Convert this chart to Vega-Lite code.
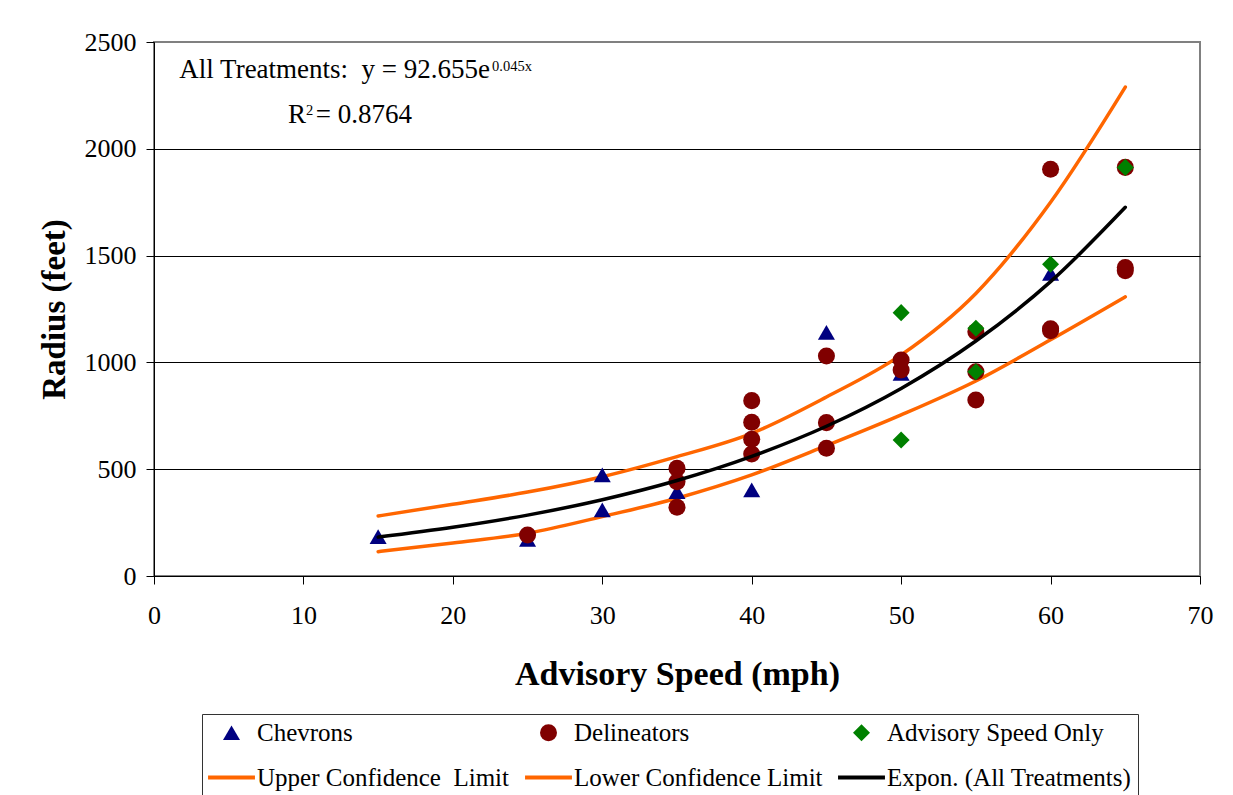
{
  "$schema": "https://vega.github.io/schema/vega-lite/v6.json",
  "width": 1046,
  "height": 534,
  "autosize": {"type": "none"},
  "padding": {"left": 154, "top": 42, "right": 33, "bottom": 219},
  "background": "white",
  "config": {
    "font": "Liberation Serif",
    "view": {"stroke": "#808080", "strokeWidth": 2},
    "axis": {
      "domainColor": "#000",
      "tickColor": "#000",
      "labelColor": "#000",
      "titleColor": "#000",
      "labelFont": "Liberation Serif",
      "titleFont": "Liberation Serif"
    }
  },
  "datasets": {
    "points": [
      {"series": "Chevrons", "speed": 15, "radius": 184},
      {"series": "Chevrons", "speed": 25, "radius": 172},
      {"series": "Chevrons", "speed": 30, "radius": 473},
      {"series": "Chevrons", "speed": 30, "radius": 309},
      {"series": "Chevrons", "speed": 35, "radius": 395},
      {"series": "Chevrons", "speed": 40, "radius": 403},
      {"series": "Chevrons", "speed": 45, "radius": 1141},
      {"series": "Chevrons", "speed": 50, "radius": 949},
      {"series": "Chevrons", "speed": 60, "radius": 1417},
      {"series": "Delineators", "speed": 25, "radius": 192},
      {"series": "Delineators", "speed": 35, "radius": 504},
      {"series": "Delineators", "speed": 35, "radius": 441},
      {"series": "Delineators", "speed": 35, "radius": 322},
      {"series": "Delineators", "speed": 40, "radius": 821},
      {"series": "Delineators", "speed": 40, "radius": 720},
      {"series": "Delineators", "speed": 40, "radius": 640},
      {"series": "Delineators", "speed": 40, "radius": 571},
      {"series": "Delineators", "speed": 45, "radius": 1030},
      {"series": "Delineators", "speed": 45, "radius": 718},
      {"series": "Delineators", "speed": 45, "radius": 598},
      {"series": "Delineators", "speed": 50, "radius": 1011},
      {"series": "Delineators", "speed": 50, "radius": 964},
      {"series": "Delineators", "speed": 55, "radius": 1144},
      {"series": "Delineators", "speed": 55, "radius": 956},
      {"series": "Delineators", "speed": 55, "radius": 824},
      {"series": "Delineators", "speed": 60, "radius": 1904},
      {"series": "Delineators", "speed": 60, "radius": 1158},
      {"series": "Delineators", "speed": 60, "radius": 1148},
      {"series": "Delineators", "speed": 65, "radius": 1913},
      {"series": "Delineators", "speed": 65, "radius": 1444},
      {"series": "Delineators", "speed": 65, "radius": 1429},
      {"series": "Advisory Speed Only", "speed": 50, "radius": 1233},
      {"series": "Advisory Speed Only", "speed": 50, "radius": 637},
      {"series": "Advisory Speed Only", "speed": 55, "radius": 1160},
      {"series": "Advisory Speed Only", "speed": 55, "radius": 956},
      {"series": "Advisory Speed Only", "speed": 60, "radius": 1459},
      {"series": "Advisory Speed Only", "speed": 65, "radius": 1913}
    ],
    "limits": [
      {"series": "Upper Confidence \u00a0Limit", "speed": 15, "radius": 281},
      {"series": "Upper Confidence \u00a0Limit", "speed": 20, "radius": 336},
      {"series": "Upper Confidence \u00a0Limit", "speed": 25, "radius": 393},
      {"series": "Upper Confidence \u00a0Limit", "speed": 30, "radius": 465},
      {"series": "Upper Confidence \u00a0Limit", "speed": 35, "radius": 559},
      {"series": "Upper Confidence \u00a0Limit", "speed": 40, "radius": 668},
      {"series": "Upper Confidence \u00a0Limit", "speed": 45, "radius": 838},
      {"series": "Upper Confidence \u00a0Limit", "speed": 50, "radius": 1035},
      {"series": "Upper Confidence \u00a0Limit", "speed": 55, "radius": 1323},
      {"series": "Upper Confidence \u00a0Limit", "speed": 60, "radius": 1750},
      {"series": "Upper Confidence \u00a0Limit", "speed": 65, "radius": 2289},
      {"series": "Lower Confidence Limit", "speed": 15, "radius": 114},
      {"series": "Lower Confidence Limit", "speed": 20, "radius": 155},
      {"series": "Lower Confidence Limit", "speed": 25, "radius": 200},
      {"series": "Lower Confidence Limit", "speed": 30, "radius": 278},
      {"series": "Lower Confidence Limit", "speed": 35, "radius": 364},
      {"series": "Lower Confidence Limit", "speed": 40, "radius": 473},
      {"series": "Lower Confidence Limit", "speed": 45, "radius": 610},
      {"series": "Lower Confidence Limit", "speed": 50, "radius": 754},
      {"series": "Lower Confidence Limit", "speed": 55, "radius": 913},
      {"series": "Lower Confidence Limit", "speed": 60, "radius": 1106},
      {"series": "Lower Confidence Limit", "speed": 65, "radius": 1307}
    ],
    "trend": [
      {"series": "Expon. (All Treatments)", "speed": 15, "radius": 182},
      {"series": "Expon. (All Treatments)", "speed": 20, "radius": 228},
      {"series": "Expon. (All Treatments)", "speed": 25, "radius": 285},
      {"series": "Expon. (All Treatments)", "speed": 30, "radius": 357},
      {"series": "Expon. (All Treatments)", "speed": 35, "radius": 447},
      {"series": "Expon. (All Treatments)", "speed": 40, "radius": 560},
      {"series": "Expon. (All Treatments)", "speed": 45, "radius": 701},
      {"series": "Expon. (All Treatments)", "speed": 50, "radius": 878},
      {"series": "Expon. (All Treatments)", "speed": 55, "radius": 1100},
      {"series": "Expon. (All Treatments)", "speed": 60, "radius": 1378},
      {"series": "Expon. (All Treatments)", "speed": 65, "radius": 1726}
    ]
  },
  "layer": [
    {
      "data": {"name": "limits"},
      "mark": {"type": "line", "interpolate": "monotone", "strokeWidth": 3.5, "strokeCap": "round"},
      "encoding": {
        "x": {
          "field": "speed",
          "type": "quantitative",
          "scale": {"domain": [0, 70], "nice": false, "zero": true},
          "axis": {
            "title": "Advisory Speed (mph)",
            "values": [0, 10, 20, 30, 40, 50, 60, 70],
            "format": "d",
            "grid": false,
            "tickSize": 8,
            "labelPadding": 18,
            "labelFontSize": 26,
            "labelFlush": false,
            "labelOverlap": false,
            "titleFontSize": 34,
            "titleFontWeight": "bold",
            "titlePadding": 29
          }
        },
        "y": {
          "field": "radius",
          "type": "quantitative",
          "scale": {"domain": [0, 2500], "nice": false, "zero": true},
          "axis": {
            "title": "Radius (feet)",
            "values": [0, 500, 1000, 1500, 2000, 2500],
            "format": "d",
            "grid": true,
            "gridColor": {"condition": {"test": "datum.value == 2500", "value": "#808080"}, "value": "#000000"},
            "gridWidth": 1,
            "tickSize": 8,
            "labelPadding": 10,
            "labelFontSize": 26,
            "labelFlush": false,
            "titleFontSize": 33,
            "titleFontWeight": "bold",
            "titlePadding": 13
          }
        },
        "detail": {"field": "series", "type": "nominal"},
        "stroke": {
          "field": "series",
          "type": "nominal",
          "scale": {"domain": ["Upper Confidence \u00a0Limit", "Lower Confidence Limit"], "range": ["#FF6600", "#FF6600"]},
          "legend": null
        }
      }
    },
    {
      "data": {"name": "points"},
      "mark": {"type": "point", "filled": true, "size": 290, "opacity": 1},
      "encoding": {
        "x": {"field": "speed", "type": "quantitative"},
        "y": {"field": "radius", "type": "quantitative"},
        "color": {
          "field": "series",
          "type": "nominal",
          "scale": {
            "domain": ["Chevrons", "Delineators", "Advisory Speed Only", "Upper Confidence \u00a0Limit", "Lower Confidence Limit", "Expon. (All Treatments)"],
            "range": ["#000080", "#800000", "#008000", "#FF6600", "#FF6600", "#000000"]
          },
          "legend": {
            "title": null,
            "orient": "none",
            "direction": "horizontal",
            "legendX": 48,
            "legendY": 672,
            "columns": 3,
            "columnPadding": 15,
            "rowPadding": 19,
            "padding": 6,
            "strokeColor": "#333333",
            "fillColor": "white",
            "labelFont": "Liberation Serif",
            "labelFontSize": 25,
            "labelColor": "#000",
            "labelLimit": 400,
            "symbolSize": 289,
            "symbolOffset": 11,
            "labelOffset": 13,
            "symbolStrokeWidth": 0,
            "symbolOpacity": 1
          }
        },
        "shape": {
          "field": "series",
          "type": "nominal",
          "scale": {
            "domain": ["Chevrons", "Delineators", "Advisory Speed Only", "Upper Confidence \u00a0Limit", "Lower Confidence Limit", "Expon. (All Treatments)"],
            "range": ["triangle-up", "circle", "diamond", "M-2.76,-0.24H2.76V0.24H-2.76Z", "M-2.76,-0.24H2.76V0.24H-2.76Z", "M-2.76,-0.24H2.76V0.24H-2.76Z"]
          },
          "legend": {
            "title": null,
            "orient": "none",
            "direction": "horizontal",
            "legendX": 48,
            "legendY": 672,
            "columns": 3,
            "columnPadding": 15,
            "rowPadding": 19,
            "padding": 6,
            "strokeColor": "#333333",
            "fillColor": "white",
            "labelFont": "Liberation Serif",
            "labelFontSize": 25,
            "labelColor": "#000",
            "labelLimit": 400,
            "symbolSize": 289,
            "symbolOffset": 11,
            "labelOffset": 13,
            "symbolStrokeWidth": 0,
            "symbolOpacity": 1
          }
        }
      }
    },
    {
      "data": {"name": "trend"},
      "mark": {"type": "line", "interpolate": "monotone", "strokeWidth": 3.5, "strokeCap": "round", "stroke": "#000000"},
      "encoding": {
        "x": {"field": "speed", "type": "quantitative"},
        "y": {"field": "radius", "type": "quantitative"}
      }
    },
    {
      "data": {"values": [{"label": "All Treatments:\u00a0 y = 92.655e"}]},
      "mark": {"type": "text", "align": "right", "baseline": "alphabetic", "fontSize": 27, "font": "Liberation Serif", "fill": "#000000"},
      "encoding": {
        "x": {"datum": 22.49, "type": "quantitative"},
        "y": {"datum": 2333, "type": "quantitative"},
        "text": {"field": "label", "type": "nominal"}
      }
    },
    {
      "data": {"values": [{"label": "0.045x"}]},
      "mark": {"type": "text", "align": "left", "baseline": "alphabetic", "fontSize": 14.5, "font": "Liberation Serif", "fill": "#000000"},
      "encoding": {
        "x": {"datum": 22.62, "type": "quantitative"},
        "y": {"datum": 2366, "type": "quantitative"},
        "text": {"field": "label", "type": "nominal"}
      }
    },
    {
      "data": {"values": [{"label": "R"}]},
      "mark": {"type": "text", "align": "left", "baseline": "alphabetic", "fontSize": 27, "font": "Liberation Serif", "fill": "#000000"},
      "encoding": {
        "x": {"datum": 8.97, "type": "quantitative"},
        "y": {"datum": 2121, "type": "quantitative"},
        "text": {"field": "label", "type": "nominal"}
      }
    },
    {
      "data": {"values": [{"label": "2"}]},
      "mark": {"type": "text", "align": "left", "baseline": "alphabetic", "fontSize": 14.5, "font": "Liberation Serif", "fill": "#000000"},
      "encoding": {
        "x": {"datum": 10.18, "type": "quantitative"},
        "y": {"datum": 2160, "type": "quantitative"},
        "text": {"field": "label", "type": "nominal"}
      }
    },
    {
      "data": {"values": [{"label": "= 0.8764"}]},
      "mark": {"type": "text", "align": "right", "baseline": "alphabetic", "fontSize": 27, "font": "Liberation Serif", "fill": "#000000"},
      "encoding": {
        "x": {"datum": 17.27, "type": "quantitative"},
        "y": {"datum": 2121, "type": "quantitative"},
        "text": {"field": "label", "type": "nominal"}
      }
    }
  ]
}
